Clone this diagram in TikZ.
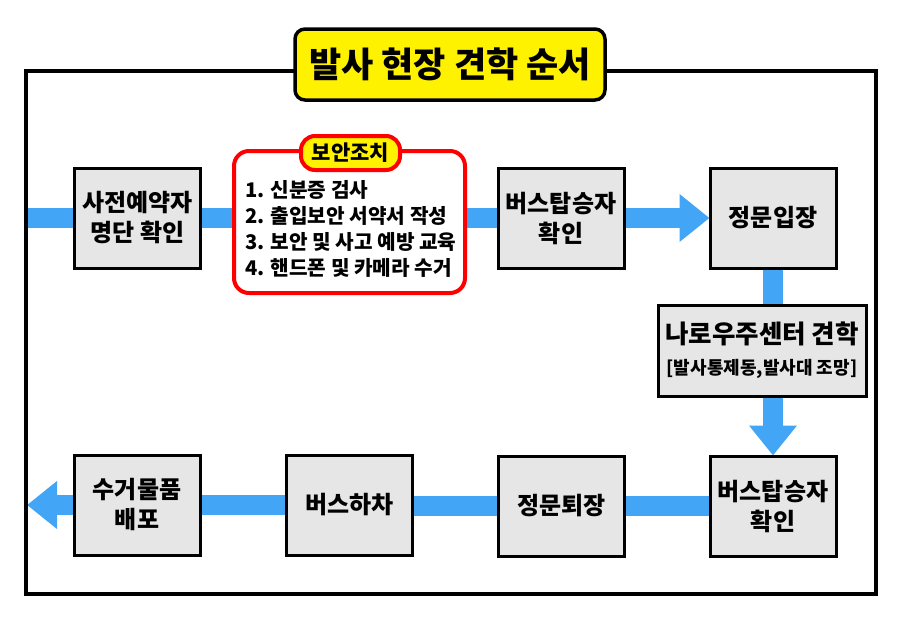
\documentclass[tikz,border=0pt]{standalone}
\usepackage{fontspec}
\newfontfamily\kr{Noto Sans CJK KR}
\usetikzlibrary{arrows.meta,backgrounds}
\definecolor{flowblue}{HTML}{42A5F5}
\definecolor{boxgray}{HTML}{E6E6E6}
\begin{document}
\begin{tikzpicture}
    [x=1pt,y=-1pt,
    stepbox/.style={draw, line width=3pt, fill=boxgray, align=center,
      minimum width=126pt, minimum height=100pt, inner sep=2pt,
      font=\kr\bfseries\fontsize{24}{30}\selectfont},
    flow/.style={draw=flowblue, line width=20pt},
    flowto/.style={flow, -{Triangle[length=30pt,width=46pt]}, shorten >=-1pt}]
    \useasboundingbox (0,0) rectangle (900,625);
    \draw[line width=4pt] (26,70.5) rectangle (875.5,594);
    \node[draw, line width=3.5pt, fill=yellow, rounded corners=10pt,
      minimum width=310pt, minimum height=71pt,
      font=\kr\bfseries\fontsize{35}{38}\selectfont] (title) at (450,64.5) {발사 현장 견학 순서};
    % top row
    \node[stepbox] (check) at (137.5,218) {사전예약자\\명단 확인};
    \node[draw=red, line width=4pt, fill=white, rounded corners=15pt,
      minimum width=231pt, minimum height=142pt] (secure) at (349.5,222) {};
    \node[anchor=west, align=left, inner sep=0pt,
      font=\kr\bfseries\fontsize{20.2}{26}\selectfont] (list) at (245,229)
      {1. 신분증 검사\\2. 출입보안 서약서 작성\\3. 보안 및 사고 예방 교육\\4. 핸드폰 및 카메라 수거};
    \node[draw=red, line width=4pt, fill=yellow, rounded corners=14pt,
      minimum width=99pt, minimum height=34pt, inner sep=0pt,
      font=\kr\bfseries\fontsize{21}{24}\selectfont] (securetitle) at (350.5,153) {보안조치};
    \node[stepbox] (busin) at (561,218) {버스탑승자\\확인};
    \node[stepbox] (gatein) at (773,218) {정문입장};
    % right column
    \node[stepbox, minimum width=208pt, minimum height=91pt,
      font=\kr\bfseries\fontsize{25.5}{31}\selectfont] (naro) at (762,350.5)
      {나로우주센터 견학\\{\fontsize{18}{20}\selectfont [발사통제동,발사대 조망]}};
    % bottom row
    \node[stepbox] (busout) at (773,506) {버스탑승자\\확인};
    \node[stepbox] (gateout) at (561.5,506) {정문퇴장};
    \node[stepbox] (busoff) at (349.5,505) {버스하차};
    \node[stepbox] (give) at (137,505) {수거물품\\배포};
    \coordinate (start) at (26,218);
    \coordinate (finish) at (28,507);
    \begin{scope}[on background layer]
      \draw[flow] (start) -- (check.west);
      \draw[flow] (check.east) -- (check.east -| secure.west);
      \draw[flow] (busin.west -| secure.east) -- (busin.west);
      \draw[flowto] (busin.east) -- (gatein.west);
      \draw[flow] (gatein.south) -- (gatein.south |- naro.north);
      \draw[flowto] (naro.south -| busout.north) -- (busout.north);
      \draw[flow] (busout.west) -- (gateout.east);
      \draw[flow] (gateout.west) -- (gateout.west -| busoff.east);
      \draw[flow] (busoff.west) -- (busoff.west -| give.east);
      \draw[flowto] (give.west) -- (give.west -| finish);
    \end{scope}
\end{tikzpicture}
\end{document}
